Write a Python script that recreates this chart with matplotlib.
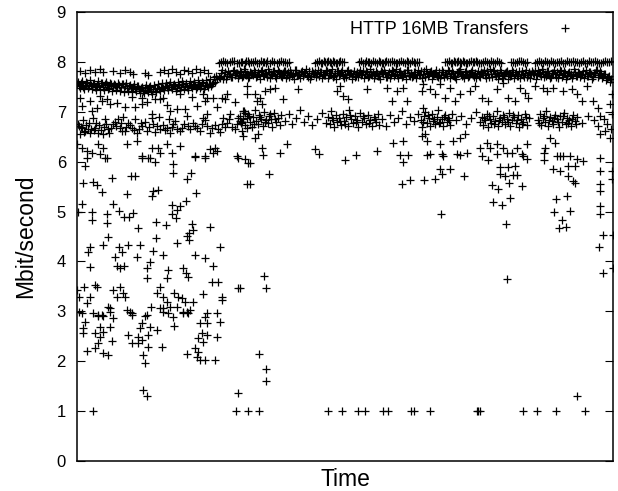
import numpy as np
import matplotlib
matplotlib.use("Agg")
import matplotlib.pyplot as plt

plt.rcParams['font.family'] = ['Liberation Sans', 'DejaVu Sans']

# --- dati (tempo in unita' arbitrarie, Mbit/s) ---

# banda principale a sinistra (campioni ogni 2 unita')
band_left_a = np.array([755, 752, 758, 750, 754, 757, 751, 753, 756, 749, 754,
                        752, 757, 750, 755, 753, 748, 756, 751, 754, 750,
                        753, 749, 755, 751, 747, 752, 748, 750, 746, 751,
                        745, 748, 743, 747, 744, 749, 742, 746, 745, 748,
                        746, 750, 747, 752, 749, 753, 750, 754, 751, 748,
                        753, 750, 755, 752, 749, 754, 751, 756, 753, 750,
                        755, 752, 757, 751, 754, 756, 752, 758, 760, 765]) / 100
band_left_b = np.array([760, 747, 762, 745, 759, 748, 763, 746, 758, 744,
                        761, 746, 757, 743, 760, 745, 758, 742, 756, 744,
                        757, 741, 755, 740, 758, 742, 754, 739, 756, 741,
                        752, 738, 750, 737, 753, 739, 751, 736, 754, 740,
                        755, 741, 758, 744, 757, 743, 760, 745, 756, 742,
                        759, 744, 761, 746, 758, 743, 762, 747, 759, 745,
                        763, 748, 760, 746, 764, 750, 766, 755, 770, 772]) / 100
# banda principale a destra (due file intercalate)
band_right_a = np.array([770, 778, 765, 780, 772, 776, 769, 781, 774, 777,
                         773, 779, 771, 782, 775, 770, 778, 774, 780, 772,
                         776, 781, 773, 777, 770, 779, 775, 782, 771, 776,
                         779, 772, 777, 781, 774, 770, 778, 775, 783, 773,
                         776, 780, 771, 778, 774, 782, 772, 777, 779, 775,
                         771, 780, 776, 773, 781, 774, 778, 770, 777, 782,
                         774, 779, 772, 776, 781, 773, 778, 775, 770, 780,
                         777, 773, 782, 775, 779, 771, 776, 780, 774, 778,
                         772, 781, 775, 777, 770, 779, 774, 782, 776, 773,
                         780, 775, 771, 778, 783, 774, 777, 772, 779, 776,
                         773, 781, 776, 770, 778, 775, 782, 774, 777, 771,
                         779, 774, 780, 776, 772, 781, 775, 778, 770, 777,
                         782, 775, 773, 779, 776, 771, 780, 774, 778, 776,
                         772, 779, 777, 774, 781, 770, 776, 783, 775, 778,
                         774, 780, 771, 777, 782, 775, 773, 779, 776, 772,
                         781, 776, 774, 778, 770, 780, 775, 777, 782, 773,
                         777, 772, 779, 775, 781, 774, 770, 778, 776, 780,
                         775, 782, 773, 777, 771, 779, 776, 774, 780, 772,
                         778, 774, 781, 776, 772, 779, 775, 770, 777, 783,
                         774, 778, 771, 776, 768, 772, 765]) / 100
band_right_b = np.array([768, 784, 772, 766, 781, 775, 769, 783, 777, 767,
                         782, 770, 785, 774, 767, 780, 776, 784, 769, 779,
                         766, 783, 771, 778, 785, 768, 774, 781, 767, 784,
                         776, 769, 782, 767, 779, 784, 771, 766, 783, 774,
                         768, 781, 777, 785, 770, 766, 782, 775, 769, 784,
                         780, 767, 773, 783, 768, 778, 785, 771, 766, 781,
                         775, 784, 768, 770, 783, 777, 766, 782, 772, 769,
                         783, 776, 767, 781, 769, 785, 774, 768, 782, 771,
                         766, 779, 784, 770, 776, 767, 783, 772, 785, 768,
                         781, 770, 778, 766, 784, 772, 769, 780, 767, 783,
                         774, 767, 782, 785, 771, 779, 766, 776, 783, 769,
                         768, 783, 770, 775, 784, 767, 781, 772, 766, 780,
                         785, 771, 767, 782, 769, 776, 784, 770, 768, 781,
                         770, 778, 783, 767, 775, 785, 769, 781, 772, 766,
                         783, 768, 776, 780, 766, 772, 784, 767, 779, 771,
                         767, 782, 770, 784, 773, 768, 781, 775, 766, 783,
                         776, 785, 769, 772, 781, 767, 777, 783, 770, 768,
                         784, 770, 781, 766, 778, 774, 768, 785, 771, 779,
                         769, 776, 767, 783, 772, 780, 766, 778, 784, 770,
                         781, 768, 775, 764, 770, 760]) / 100

above_left = [(3, 7.82), (8, 7.78), (13, 7.84), (18, 7.80), (23, 7.86), (26, 7.80),
              (36, 7.82), (43, 7.78), (48, 7.84), (53, 7.80), (56, 7.76), (68, 7.78),
              (71, 7.74), (83, 7.80), (87, 7.84), (91, 7.78), (95, 7.86), (99, 7.80),
              (103, 7.76), (107, 7.84), (111, 7.82), (115, 7.78), (119, 7.86),
              (123, 7.80), (127, 7.84), (131, 7.78)]

top_row = [(142, 7.98), (146, 8.01), (150, 7.97), (153, 8.00), (157, 8.02), (160, 7.98),
           (164, 8.00), (168, 7.97), (171, 8.01), (165, 7.99), (169, 8.02), (172, 7.98),
           (176, 8.00), (180, 7.97), (184, 8.01), (187, 7.99), (190, 8.02), (193, 7.98),
           (197, 8.00), (200, 7.97), (204, 8.01), (208, 7.99), (212, 8.00),
           (238, 7.98), (242, 8.01), (245, 7.97), (248, 8.00), (251, 8.02), (254, 7.98),
           (257, 8.00), (260, 7.97), (263, 8.01), (267, 7.99),
           (282, 8.00), (286, 7.97), (289, 8.01), (292, 7.99), (296, 8.02), (300, 7.98),
           (303, 8.00), (306, 7.97), (309, 8.01), (313, 7.99), (317, 8.00), (320, 7.98),
           (324, 8.02), (328, 7.97), (331, 8.00), (335, 8.01), (338, 7.98), (342, 8.00),
           (368, 7.99), (372, 8.01), (375, 7.97), (378, 8.00), (381, 8.02), (384, 7.98),
           (387, 8.00), (390, 7.97), (394, 8.01), (397, 7.99), (400, 8.00), (404, 7.98),
           (408, 8.02), (412, 7.97), (416, 8.00), (420, 8.01), (424, 7.98),
           (434, 8.00), (438, 7.97), (442, 8.01), (446, 7.99), (450, 8.00),
           (458, 7.98), (462, 8.01), (466, 7.97), (470, 8.00), (474, 8.02), (478, 7.98),
           (482, 8.00), (486, 7.97), (490, 8.01), (494, 7.99), (498, 8.00), (502, 7.98),
           (506, 8.02), (510, 7.97), (514, 8.00), (518, 8.01), (522, 7.98), (526, 8.00),
           (530, 7.99), (534, 8.01)]

top_row_extra = [(144, 8.00), (148, 7.99), (155, 8.01), (162, 7.98), (174, 8.00), (178, 8.02),
                 (182, 7.98), (186, 8.00), (189, 7.97), (195, 8.01), (202, 7.99), (206, 8.00),
                 (210, 7.98), (240, 8.00), (244, 7.98), (247, 8.02), (250, 7.99), (253, 8.00),
                 (256, 8.01), (259, 7.98), (262, 8.00), (265, 7.99), (284, 8.01), (288, 7.98),
                 (291, 8.00), (294, 7.97), (298, 8.00), (302, 8.01), (305, 7.98), (308, 8.00),
                 (311, 7.99), (315, 8.01), (319, 7.98), (322, 8.00), (326, 7.99), (330, 8.01),
                 (333, 7.98), (337, 8.00), (340, 7.99), (370, 8.00), (374, 7.98), (377, 8.01),
                 (380, 7.99), (383, 8.00), (386, 8.02), (389, 7.98), (392, 8.00), (396, 7.99),
                 (399, 8.01), (402, 7.98), (406, 8.00), (410, 7.99), (414, 8.01), (418, 7.98),
                 (422, 8.00), (436, 7.99), (440, 8.00), (444, 8.01), (448, 7.98), (460, 8.00),
                 (464, 7.99), (468, 8.01), (472, 7.98), (476, 8.00), (480, 7.99), (484, 8.01),
                 (488, 7.98), (492, 8.00), (496, 8.02), (500, 7.99), (504, 8.00), (508, 7.98),
                 (512, 8.01), (516, 7.99), (520, 8.00), (524, 7.98), (528, 8.01), (532, 7.99)]

below_band_left = [(3, 7.28), (13, 7.22), (23, 7.32), (30, 7.26), (65, 7.28), (66, 7.42),
                   (86, 7.28), (103, 7.36), (126, 7.36), (130, 7.28), (145, 7.28),
                   (15, 7.02), (25, 7.22), (33, 7.16), (48, 7.10), (58, 7.10), (65, 7.16),
                   (75, 6.96), (93, 7.02), (100, 7.06), (108, 7.06), (78, 7.26), (83, 7.26),
                   (128, 7.22), (130, 6.96), (136, 7.28), (148, 7.26), (150, 7.36),
                   (153, 6.96), (161, 6.88), (166, 7.02), (170, 7.36),
                   (5, 7.12), (20, 7.08), (40, 7.18), (55, 7.30), (70, 7.20), (90, 7.14),
                   (115, 7.30), (120, 7.12), (140, 7.10), (158, 7.20)]

between_right = [(170, 7.52), (178, 7.36), (183, 7.28), (188, 7.42), (193, 7.46), (198, 7.48),
                 (180, 7.22), (185, 7.16), (206, 7.26), (221, 7.46), (260, 7.42), (266, 7.32),
                 (271, 7.26), (263, 7.52), (290, 7.46), (310, 7.48), (320, 7.42), (326, 7.48),
                 (345, 7.42), (315, 7.22), (346, 7.08), (330, 7.22),
                 (346, 7.56), (353, 7.46), (358, 7.36), (363, 7.56), (368, 7.28), (373, 7.48),
                 (378, 7.22), (383, 7.36), (393, 7.42), (398, 7.52), (405, 7.28), (411, 7.22),
                 (420, 7.46), (426, 7.58), (431, 7.28), (438, 7.22), (443, 7.48), (448, 7.38),
                 (451, 7.28), (458, 7.52), (466, 7.48), (470, 7.42), (476, 7.48), (486, 7.42),
                 (495, 7.46), (500, 7.36), (505, 7.22), (510, 7.52), (516, 7.22), (521, 7.08),
                 (533, 7.16), (535, 7.36), (523, 6.92)]

mid_left = [(1, 6.76), (5, 6.68), (8, 6.62), (3, 6.56), (11, 6.66), (13, 6.58), (18, 6.68),
            (21, 6.58), (26, 6.56), (31, 6.66), (36, 6.76), (41, 6.86), (43, 6.68), (48, 6.62),
            (51, 6.78), (55, 6.68), (60, 6.58), (65, 6.72), (70, 6.62), (76, 6.76), (75, 6.88),
            (83, 6.66), (90, 6.68), (93, 6.58), (96, 6.76), (100, 6.66), (105, 6.68),
            (111, 6.72), (116, 6.78), (120, 6.68), (125, 6.76), (130, 6.72), (133, 6.58),
            (141, 6.66), (145, 6.76), (146, 6.88), (150, 6.78), (160, 6.76), (163, 6.82),
            (168, 6.98), (170, 6.68),
            (2, 6.72), (7, 6.60), (12, 6.78), (17, 6.64), (22, 6.74), (27, 6.70), (32, 6.58),
            (38, 6.80), (45, 6.62), (53, 6.74), (62, 6.66), (68, 6.80), (78, 6.60), (86, 6.74),
            (98, 6.82), (103, 6.62), (113, 6.66), (123, 6.62), (128, 6.84), (138, 6.74),
            (143, 6.60), (155, 6.70), (165, 6.62),
            (4, 6.70), (9, 6.74), (14, 6.66), (19, 6.78), (24, 6.64), (29, 6.76), (34, 6.68),
            (39, 6.72), (44, 6.78), (49, 6.70), (57, 6.64), (64, 6.78), (72, 6.70), (80, 6.72),
            (88, 6.64), (95, 6.70), (107, 6.76), (118, 6.72), (135, 6.68), (148, 6.70),
            (158, 6.66), (6, 6.84), (16, 6.88), (28, 6.86), (46, 6.90), (58, 6.86), (82, 6.90),
            (92, 6.86), (110, 6.92), (126, 6.88), (152, 6.86),
            (0, 6.36), (5, 6.28), (10, 6.22), (15, 6.18), (21, 6.36), (26, 6.28), (30, 6.08),
            (50, 6.36), (60, 6.42), (65, 6.12), (71, 6.08), (75, 6.28), (81, 6.28), (90, 6.36),
            (103, 6.32), (118, 6.12), (128, 6.12), (133, 6.26), (138, 6.28), (140, 6.22),
            (160, 6.12), (168, 6.06)]

mid_right = [(163, 6.92), (164, 6.78), (166, 6.85), (167, 7.02), (168, 6.74), (170, 6.88),
             (171, 6.96), (173, 6.80), (175, 6.70), (176, 6.90), (178, 7.04), (179, 6.82),
             (181, 6.76), (182, 6.94), (184, 6.86), (186, 6.72), (187, 7.00), (189, 6.84),
             (191, 6.78), (192, 6.92), (194, 6.86), (195, 6.70), (197, 6.98), (199, 6.80),
             (201, 6.88), (203, 6.74), (204, 6.94),
             (208, 6.82), (212, 6.96), (215, 6.76), (219, 6.88), (223, 7.04), (227, 6.80),
             (231, 6.92), (235, 6.74), (240, 6.86), (245, 6.98), (249, 6.78),
             (251, 6.90), (253, 6.76), (254, 7.02), (256, 6.84), (257, 6.70), (259, 6.94),
             (260, 6.80), (262, 6.88), (264, 6.74), (266, 6.96), (267, 6.82), (269, 6.90),
             (271, 6.72), (272, 7.04), (274, 6.86), (276, 6.78), (278, 6.92), (280, 6.84),
             (281, 6.70), (283, 6.98), (285, 6.80), (287, 6.88), (289, 6.76), (291, 6.94),
             (293, 6.84), (295, 6.72), (297, 6.90), (299, 6.80), (301, 6.96), (302, 6.74),
             (305, 6.86), (309, 6.72), (313, 6.94), (317, 6.80), (321, 6.88), (325, 7.02),
             (329, 6.76), (333, 6.90), (337, 6.82), (341, 6.96),
             (344, 6.84), (345, 6.70), (347, 6.92), (348, 7.00), (350, 6.78), (352, 6.88),
             (353, 6.72), (355, 6.96), (356, 6.82), (358, 6.76), (360, 6.90), (361, 7.04),
             (363, 6.80), (365, 6.86), (366, 6.72), (368, 6.94), (370, 6.80), (371, 6.88),
             (373, 6.74), (375, 6.96),
             (379, 6.84), (384, 6.92), (389, 6.76), (394, 6.88), (399, 7.00), (403, 6.80),
             (405, 6.90), (406, 6.74), (408, 6.84), (410, 6.96), (411, 6.70), (413, 6.86),
             (414, 6.78), (416, 6.92), (418, 6.82), (420, 7.02), (421, 6.72), (423, 6.88),
             (425, 6.80), (426, 6.94), (428, 6.76), (430, 6.86), (432, 6.98), (433, 6.72),
             (435, 6.84), (437, 6.90), (439, 6.78), (441, 6.94), (442, 6.70), (444, 6.86),
             (446, 6.80), (448, 6.96), (450, 6.74), (452, 6.88),
             (461, 6.84), (463, 6.96), (464, 6.74), (466, 6.88), (468, 6.80), (469, 7.02),
             (471, 6.72), (473, 6.90), (475, 6.82), (476, 6.76), (478, 6.94), (480, 6.86),
             (482, 6.70), (483, 6.92), (485, 6.80), (487, 6.98), (489, 6.76), (490, 6.88),
             (492, 6.84), (494, 6.72), (496, 6.94), (498, 6.82), (500, 6.90),
             (505, 6.78), (511, 6.92), (517, 6.84), (521, 6.72), (527, 6.86), (534, 6.66),
             (530, 6.76), (535, 6.96),
             (165, 6.80), (172, 6.92), (177, 6.76), (183, 6.90), (188, 6.80), (193, 6.96),
             (198, 6.86), (255, 6.88), (263, 6.82), (268, 6.76), (273, 6.94), (279, 6.80),
             (286, 6.92), (292, 6.78), (298, 6.86), (346, 6.80), (351, 6.94), (357, 6.86),
             (362, 6.78), (367, 6.90), (372, 6.84), (407, 6.88), (412, 6.92), (417, 6.76),
             (422, 6.84), (427, 6.90), (431, 6.80), (436, 6.94), (440, 6.84), (445, 6.76),
             (449, 6.90), (462, 6.78), (467, 6.92), (472, 6.84), (477, 6.88), (481, 6.80),
             (486, 6.92), (491, 6.78), (495, 6.86), (499, 6.76)]

low_right = [(166, 6.52), (181, 6.56), (178, 6.48), (185, 6.28), (210, 6.36), (238, 6.26),
             (316, 6.38), (326, 6.42), (345, 6.52), (348, 6.56), (350, 6.42), (363, 6.36),
             (376, 6.42), (383, 6.48), (388, 6.56), (353, 6.16), (366, 6.12), (380, 6.16),
             (403, 6.28), (410, 6.38), (413, 6.28), (420, 6.36), (426, 6.28), (430, 6.18),
             (440, 6.28), (445, 6.16), (450, 6.36), (468, 6.28), (473, 6.48), (478, 6.38),
             (483, 6.12), (523, 6.56), (528, 6.62), (533, 6.48),
             (173, 5.98), (186, 6.14), (203, 6.18), (242, 6.16), (268, 6.04), (279, 6.14),
             (300, 6.22), (323, 6.14), (331, 6.14), (326, 6.00), (192, 5.76), (173, 5.56),
             (325, 5.56), (333, 5.64),
             (350, 6.14), (365, 6.16), (383, 6.14), (390, 6.18), (405, 6.12), (411, 6.04),
             (420, 6.16), (435, 6.18), (446, 6.12), (450, 6.06), (467, 6.18), (467, 6.04),
             (480, 6.12), (486, 6.12), (493, 6.12), (500, 6.06), (506, 6.02), (523, 6.08),
             (363, 5.86), (365, 5.76), (373, 5.86), (347, 5.64), (358, 5.66), (387, 5.72),
             (423, 5.90), (431, 5.90), (423, 5.76), (428, 5.72), (436, 5.74), (440, 5.74),
             (438, 5.92), (445, 5.52), (432, 5.58), (415, 5.54), (421, 5.46), (416, 5.20),
             (425, 5.14), (433, 5.28), (429, 4.76), (364, 4.96), (476, 5.86), (483, 5.82),
             (491, 5.92), (498, 5.92), (491, 5.72), (496, 5.62), (498, 5.58), (479, 5.26),
             (490, 5.32), (477, 5.00), (493, 5.02), (485, 4.84), (482, 4.68), (489, 4.70),
             (523, 5.82), (523, 5.56), (523, 5.42), (523, 5.12), (523, 4.96), (535, 5.82),
             (535, 5.66), (526, 4.54), (536, 4.54), (522, 4.28), (536, 3.86), (526, 3.76),
             (430, 3.64)]

scatter_left = [(10, 6.08), (23, 6.16), (28, 6.08), (8, 5.92), (65, 6.08), (73, 6.08), (78, 6.00),
                (83, 6.18), (95, 6.18), (96, 5.96), (96, 5.78), (118, 6.10), (128, 6.08),
                (136, 6.18), (161, 6.08), (171, 5.98), (170, 5.56), (35, 5.68), (54, 5.72),
                (58, 5.72), (6, 5.58), (16, 5.60), (20, 5.54), (25, 5.40), (50, 5.36), (75, 5.32),
                (76, 5.42), (81, 5.44), (110, 5.66), (114, 5.78), (119, 5.38), (5, 5.16), (1, 5.00),
                (15, 5.00), (15, 4.84), (30, 4.96), (30, 4.78), (36, 5.16), (42, 5.02), (47, 4.90),
                (52, 4.90), (56, 4.98), (79, 4.80), (89, 4.74), (95, 5.14), (95, 4.96), (100, 5.04),
                (103, 5.12), (109, 5.22), (99, 4.88), (115, 4.76), (112, 4.58), (116, 4.64),
                (110, 4.52), (133, 4.70), (61, 4.68), (31, 4.48), (79, 4.46), (13, 4.28),
                (11, 4.18), (26, 4.32), (42, 4.28), (45, 4.18), (51, 4.32), (63, 4.32), (76, 4.20),
                (100, 4.36), (112, 4.42), (143, 4.28), (38, 4.08), (60, 4.08), (73, 3.98),
                (86, 4.12), (118, 4.12), (128, 4.06), (136, 3.90), (13, 3.88), (40, 3.90),
                (43, 3.86), (47, 3.90), (70, 3.86), (91, 3.82), (106, 3.86), (109, 3.76),
                (111, 3.68), (70, 3.66), (90, 3.66), (135, 3.58), (141, 3.58), (161, 3.46),
                (0, 3.42), (7, 3.48), (18, 3.52), (20, 3.48), (36, 3.42), (43, 3.48), (46, 3.36),
                (40, 3.28), (48, 3.28), (2, 3.28), (13, 3.28), (10, 3.16), (83, 3.48), (80, 3.36),
                (86, 3.28), (90, 3.18), (93, 3.08), (97, 3.36), (101, 3.28), (105, 3.26),
                (108, 3.18), (100, 3.08), (116, 3.18), (110, 2.98), (126, 3.34), (145, 3.28),
                (145, 3.22), (130, 2.96), (140, 2.96), (2, 2.98), (5, 2.96), (21, 2.92),
                (25, 2.92), (31, 3.08), (33, 3.06), (50, 3.02), (55, 2.96), (74, 3.08), (70, 2.92),
                (83, 3.06), (86, 3.06), (91, 2.96), (106, 2.96), (113, 3.02),
                (16, 2.96), (21, 2.90), (26, 2.90), (33, 2.98), (36, 2.86), (8, 2.78), (6, 2.66),
                (6, 2.56), (18, 2.56), (23, 2.68), (26, 2.58), (33, 2.68), (23, 2.48), (21, 2.36),
                (18, 2.26), (10, 2.20), (35, 2.40), (26, 2.16), (31, 2.12), (53, 2.98), (55, 2.92),
                (68, 2.90), (65, 2.76), (63, 2.66), (73, 2.68), (80, 2.62), (51, 2.52), (55, 2.36),
                (61, 2.48), (65, 2.42), (61, 2.36), (71, 2.52), (71, 2.28), (85, 2.28), (66, 2.12),
                (68, 1.96), (86, 2.98), (96, 2.88), (97, 2.70), (106, 2.98), (111, 2.96),
                (128, 2.88), (130, 2.76), (123, 2.76), (143, 2.78), (125, 2.56), (130, 2.52),
                (121, 2.46), (126, 2.38), (140, 2.48), (118, 2.26), (121, 2.18), (110, 2.14),
                (123, 2.02), (128, 2.02), (138, 2.02), (120, 2.08)]

low_points = [(66, 1.42), (70, 1.30), (161, 1.36), (500, 1.30), (182, 2.14), (189, 1.84),
              (189, 1.60), (187, 3.70), (189, 3.46), (163, 3.46)]

floor_t = [16, 159, 171, 182, 251, 265, 281, 288, 306, 311, 334, 337, 353,
           400, 401, 403, 446, 460, 479, 508]
floor_v = [1.0] * len(floor_t)

# --- raccolta di tutti i punti ---
xs = (list(np.arange(0, 141, 2)) + list(np.arange(1, 140, 2))
      + list(np.arange(142, 535, 2)) + list(np.arange(143, 534, 2)))
ys = list(band_left_a) + list(band_left_b) + list(band_right_a) + list(band_right_b)
for group in [above_left, top_row, top_row_extra, below_band_left, between_right,
              mid_left, mid_right, low_right, scatter_left, low_points]:
    xs += [p[0] for p in group]
    ys += [p[1] for p in group]
xs += floor_t
ys += floor_v

fig = plt.figure(figsize=(6.18, 4.91), dpi=100)
ax = fig.add_axes([77 / 618, 30 / 491, 536 / 618, 449 / 491])

ax.plot(xs, ys, linestyle='none', marker='+', markersize=5.8, markeredgewidth=0.9,
        color='black', label='HTTP 16MB Transfers')

ax.set_xlim(0, 536)
ax.set_ylim(0, 9)
ax.set_yticks(range(10))
ax.tick_params(axis='y', direction='in', length=6, width=0.8, left=True, right=True,
               labelsize=12, pad=8)
ax.tick_params(axis='x', bottom=False, labelbottom=False)
for s in ax.spines.values():
    s.set_linewidth(1.1)

ax.set_xlabel('Time', fontsize=16.5, labelpad=5)
ax.set_ylabel('Mbit/second', fontsize=16.5, labelpad=14)

ax.legend(loc='upper right', frameon=False, markerfirst=False, fontsize=13,
          handlelength=1.8, handletextpad=1.15, borderaxespad=0.4,
          bbox_to_anchor=(0.968, 1.012))

plt.savefig('out.png', dpi=100)
